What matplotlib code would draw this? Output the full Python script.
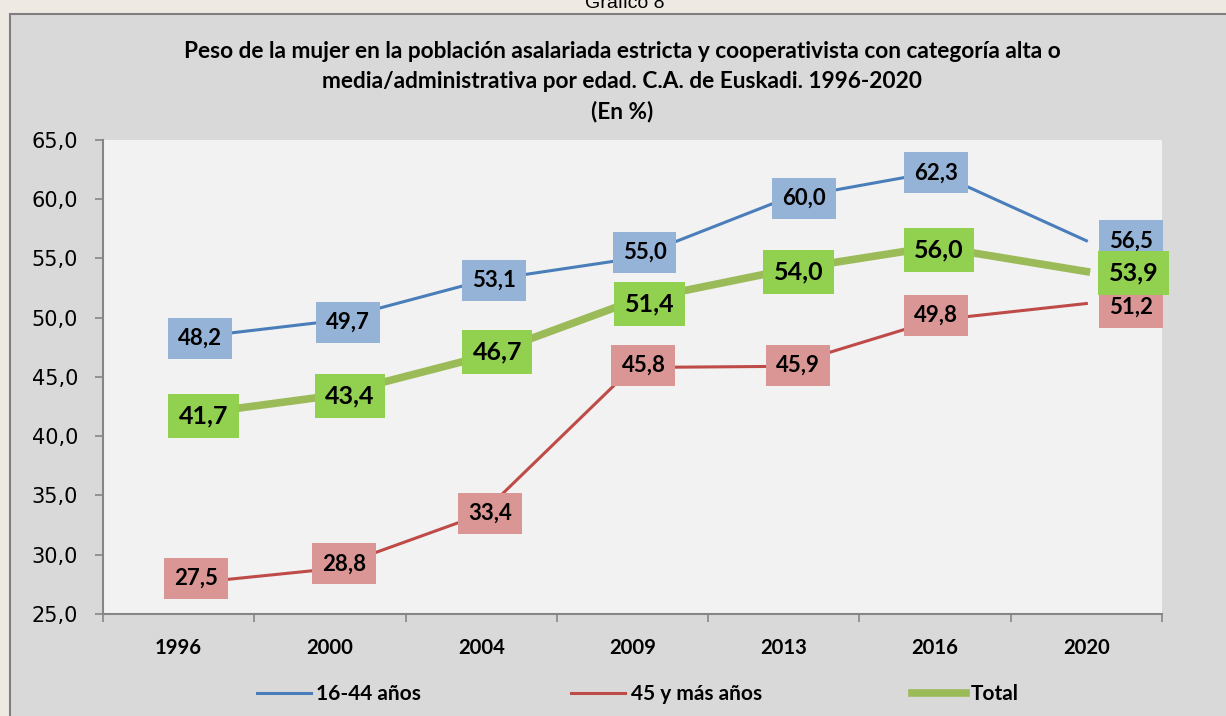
import matplotlib.pyplot as plt
import numpy as np
from matplotlib.patches import Rectangle
from matplotlib.ticker import FuncFormatter

years = ['1996', '2000', '2004', '2009', '2013', '2016', '2020']
jovenes = [48.2, 49.7, 53.1, 55.0, 60.0, 62.3, 56.5]
mayores = [27.5, 28.8, 33.4, 45.8, 45.9, 49.8, 51.2]
total = [41.7, 43.4, 46.7, 51.4, 54.0, 56.0, 53.9]

# label box offsets in pixels (dx, dy) relative to each point
off_jov = [(21, 1), (18, -1), (13, 1), (12, 6), (20, 1), (1, -1), (45, 0)]
off_may = [(17, 6), (14, 5), (9, 1), (11, 2), (14, 1), (1, 5), (45, -4)]
off_tot = [(25, 0), (20, 0), (16, 5), (17, -3), (15, -2), (4, -3), (47, -1)]

W, H = 1226, 716
fig = plt.figure(figsize=(W / 100, H / 100), dpi=100, facecolor='#EEEAE3')
fig.add_artist(Rectangle((10 / W, -0.05), 1.0, 1 - 14 / H + 0.05, transform=fig.transFigure,
                         facecolor='#D9D9D9', edgecolor='#7F7F7F', lw=1.5, zorder=0))

fig.text(625 / W, 1 - 8 / H, 'Gráfico 8', ha='center', va='baseline',
         fontsize=14, family='Liberation Sans')

title_font = dict(family=['Lato', 'DejaVu Sans'], fontweight='bold', fontsize=16.3, ha='center', va='center')
fig.text(622 / W, 1 - 51 / H, 'Peso de la mujer en la población asalariada estricta y cooperativista con categoría alta o', **title_font)
fig.text(622 / W, 1 - 81 / H, 'media/administrativa por edad. C.A. de Euskadi. 1996-2020', **title_font)
fig.text(622 / W, 1 - 111 / H, '(En %)', **title_font)

ax = fig.add_axes([103 / W, 1 - 614 / H, (1162 - 103) / W, (614 - 140) / H])
ax.set_facecolor('#F2F2F2')

x = np.arange(len(years))
ax.plot(x, jovenes, color='#4A7EBB', lw=2.2, label='16-44 años', zorder=2)
ax.plot(x, mayores, color='#BE4B48', lw=2.2, label='45 y más años', zorder=2)
ax.plot(x, total, color='#9BBB59', lw=5.5, label='Total', zorder=3)

ax.set_xlim(-0.5, 6.5)
ax.set_ylim(25, 65)
ax.set_yticks(np.arange(25, 66, 5))
ax.yaxis.set_major_formatter(FuncFormatter(lambda v, p: f'{v:.1f}'.replace('.', ',')))
ax.set_xticks(x)
ax.set_xticklabels(years, family=['Lato', 'DejaVu Sans'], fontweight='bold', fontsize=14.6)
ax.set_xticks(np.arange(-0.5, 7, 1), minor=True)
ax.tick_params(axis='x', which='major', length=0, pad=17)
ax.tick_params(axis='x', which='minor', length=6, color='#868686', width=1.2)
ax.tick_params(axis='y', length=6, color='#868686', width=1.2, pad=12, labelsize=15)
for s in ['top', 'right']:
    ax.spines[s].set_visible(False)
for s in ['left', 'bottom']:
    ax.spines[s].set_color('#868686')
    ax.spines[s].set_linewidth(1.5)


def labels(vals, offs, fc, size, pad, z):
    for i, v in enumerate(vals):
        ax.annotate(f'{v:.1f}'.replace('.', ','), (x[i], v), xytext=offs[i], textcoords='offset pixels',
                    ha='center', va='center', fontsize=size, fontweight='bold',
                    family=['Lato', 'DejaVu Sans'], annotation_clip=False, zorder=z,
                    bbox=dict(boxstyle=f'square,pad={pad}', fc=fc, ec='none'))


labels(jovenes, off_jov, '#95B3D7', 16, 0.45, 4)
labels(mayores, off_may, '#DA9694', 16, 0.45, 4)
labels(total, off_tot, '#92D050', 18, 0.42, 5)

handles, names = ax.get_legend_handles_labels()
fig.legend(handles, names, loc='center', bbox_to_anchor=(638 / W, 1 - 694 / H), ncol=3, frameon=False,
           prop=dict(family=['Lato', 'DejaVu Sans'], weight='bold', size=15),
           handlelength=2.6, handletextpad=0.25, columnspacing=7.2)

fig.savefig('out.png', dpi=100, facecolor=fig.get_facecolor())
